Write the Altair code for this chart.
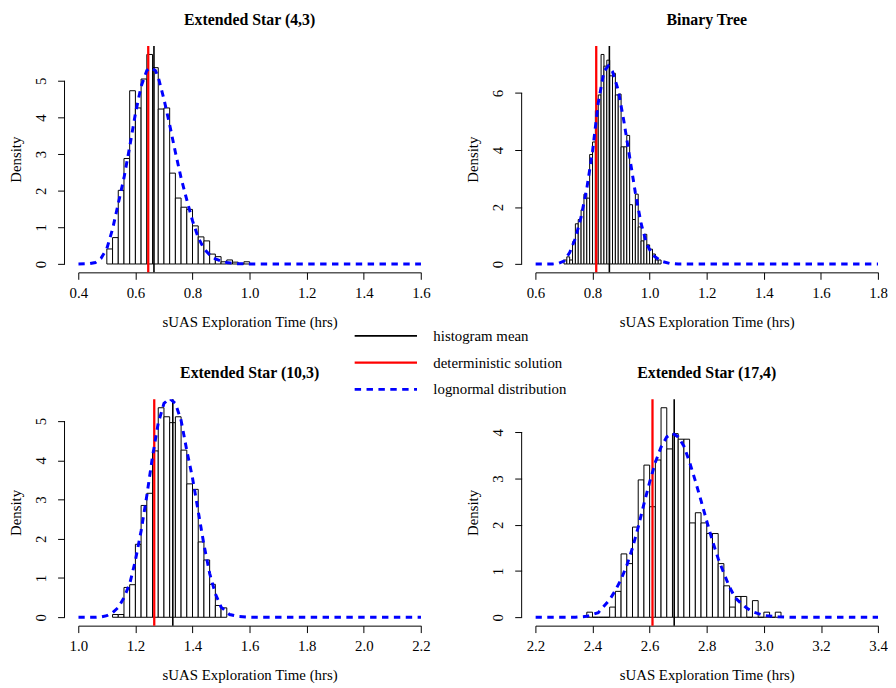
import altair as alt
import pandas as pd

FONT = "Liberation Serif"

# ---------------- data ----------------
# Extended Star (4,3)
p1_title = "Extended Star (4,3)"
p1_bin_start, p1_bin_width = 0.50, 0.02
p1_density = [0.41, 0.72, 2.01, 2.88, 4.73, 4.26, 5.05, 5.72, 5.36, 4.23, 4.26, 2.48,
              1.80, 1.55, 1.49, 1.04, 0.74, 0.63, 0.27, 0.20, 0.06, 0.11, 0.05, 0.00, 0.06]
p1_curve_x = [0.40, 0.44, 0.46, 0.48, 0.50, 0.52, 0.54, 0.56, 0.58, 0.60, 0.62, 0.64, 0.655,
              0.67, 0.68, 0.70, 0.72, 0.74, 0.76, 0.78, 0.80, 0.82, 0.84, 0.86, 0.88, 0.90,
              0.92, 0.95, 1.00, 1.60]
p1_curve_y = [0.00, 0.01, 0.04, 0.16, 0.42, 0.95, 1.65, 2.35, 3.20, 4.10, 4.85, 5.28, 5.36,
              5.28, 5.10, 4.50, 3.80, 3.05, 2.35, 1.75, 1.18, 0.72, 0.42, 0.25, 0.14, 0.08,
              0.04, 0.01, 0.00, 0.00]
p1_mean, p1_det = 0.665, 0.645
p1_xticks = [0.4, 0.6, 0.8, 1.0, 1.2, 1.4, 1.6]
p1_yticks = [0, 1, 2, 3, 4, 5]

# Binary Tree
p2_title = "Binary Tree"
p2_bin_start, p2_bin_width = 0.70, 0.01
p2_density = [0.14, 0.25, 0.14, 0.78, 1.41, 1.56, 1.90, 2.45, 2.31, 3.84, 4.28, 5.38,
              5.93, 7.35, 6.94, 7.15, 6.60, 6.69, 5.93, 5.96, 4.11, 4.11, 4.51, 2.08,
              1.56, 2.45, 1.30, 0.81, 1.04, 0.67, 0.52, 0.35, 0.14, 0.14]
p2_curve_x = [0.60, 0.66, 0.68, 0.70, 0.72, 0.74, 0.76, 0.78, 0.80, 0.82, 0.84, 0.855,
              0.87, 0.89, 0.91, 0.93, 0.95, 0.97, 0.99, 1.01, 1.04, 1.07, 1.10, 1.80]
p2_curve_y = [0.00, 0.00, 0.02, 0.10, 0.40, 0.90, 1.65, 2.65, 3.95, 5.65, 6.75, 6.95,
              6.75, 6.10, 5.00, 3.75, 2.50, 1.42, 0.69, 0.32, 0.10, 0.02, 0.00, 0.00]
p2_mean, p2_det = 0.859, 0.813
p2_xticks = [0.6, 0.8, 1.0, 1.2, 1.4, 1.6, 1.8]
p2_yticks = [0, 2, 4, 6]

# Extended Star (10,3)
p3_title = "Extended Star (10,3)"
p3_bin_start, p3_bin_width = 1.12, 0.02
p3_density = [0.07, 0.07, 0.76, 0.83, 1.86, 2.85, 3.16, 4.24, 5.34, 5.11, 4.96, 5.11,
              4.26, 3.40, 3.26, 1.92, 1.46, 0.84, 0.30, 0.24]
p3_curve_x = [1.00, 1.06, 1.08, 1.10, 1.12, 1.14, 1.16, 1.18, 1.20, 1.22, 1.24, 1.26,
              1.28, 1.30, 1.32, 1.34, 1.36, 1.38, 1.40, 1.42, 1.44, 1.46, 1.48, 1.50,
              1.53, 1.56, 1.60, 2.20]
p3_curve_y = [0.00, 0.00, 0.01, 0.04, 0.12, 0.25, 0.50, 0.85, 1.45, 2.20, 3.10, 4.10,
              4.95, 5.45, 5.58, 5.45, 5.02, 4.25, 3.55, 2.70, 1.85, 1.12, 0.60, 0.26,
              0.07, 0.02, 0.00, 0.00]
p3_mean, p3_det = 1.331, 1.266
p3_xticks = [1.0, 1.2, 1.4, 1.6, 1.8, 2.0, 2.2]
p3_yticks = [0, 1, 2, 3, 4, 5]

# Extended Star (17,4)
p4_title = "Extended Star (17,4)"
p4_bin_start, p4_bin_width = 2.38, 0.02
p4_density = [0.11, 0.00, 0.00, 0.00, 0.22, 0.56, 1.37, 1.16, 1.95, 2.97, 3.29, 2.39,
              3.40, 4.53, 3.64, 3.97, 3.85, 3.85, 2.04, 2.26, 2.04, 1.81, 1.81, 1.16,
              0.68, 0.22, 0.45, 0.45, 0.00, 0.36, 0.00, 0.11, 0.00, 0.11]
p4_curve_x = [2.20, 2.34, 2.38, 2.42, 2.46, 2.48, 2.50, 2.52, 2.54, 2.56, 2.58, 2.60,
              2.62, 2.64, 2.66, 2.68, 2.70, 2.72, 2.74, 2.76, 2.78, 2.80, 2.82, 2.84,
              2.86, 2.88, 2.90, 2.92, 2.94, 2.96, 3.00, 3.05, 3.10, 3.40]
p4_curve_y = [0.00, 0.00, 0.02, 0.10, 0.38, 0.58, 0.82, 1.12, 1.50, 1.95, 2.45, 2.92,
              3.35, 3.68, 3.90, 3.98, 3.90, 3.70, 3.35, 2.95, 2.52, 2.08, 1.65, 1.27,
              0.95, 0.65, 0.42, 0.30, 0.20, 0.12, 0.04, 0.01, 0.00, 0.00]
p4_mean, p4_det = 2.686, 2.610
p4_xticks = [2.2, 2.4, 2.6, 2.8, 3.0, 3.2, 3.4]
p4_yticks = [0, 1, 2, 3, 4]

legend_kinds = ["histogram mean", "deterministic solution", "lognormal distribution"]
x_title = "sUAS Exploration Time (hrs)"
y_title = "Density"

# ---------------- layout / style ----------------
W, H = 346.2, 228.6
YOFF = 13.9

legend = alt.Legend(title=None, orient="none", legendX=277.7, legendY=282.8,
                    symbolType="stroke", symbolSize=3969, clipHeight=20, rowPadding=7,
                    labelOffset=15, labelFont=FONT, labelFontSize=15, labelColor="black",
                    labelLimit=400, padding=0)
color_enc = alt.Color("kind:N", scale=alt.Scale(domain=legend_kinds, range=["black", "red", "blue"]),
                      legend=legend)
dash_enc = alt.StrokeDash("kind:N", scale=alt.Scale(domain=legend_kinds, range=[[1, 0], [1, 0], [6.5, 5.5]]),
                          legend=legend)
width_enc = alt.StrokeWidth("kind:N", scale=alt.Scale(domain=legend_kinds, range=[1.6, 3, 1.6]),
                            legend=legend)


def panel(title, start, bw, dens, cx, cy, mean, det, xticks, yticks):
    ymax = max(dens)
    xs = alt.Scale(domain=[xticks[0], xticks[-1]], nice=False, zero=False)
    ys = alt.Scale(domain=[-0.04 * ymax, 1.04 * ymax], nice=False, zero=False)
    xaxis = alt.Axis(values=xticks, format=".1f", labelFont=FONT, labelFontSize=15,
                     labelColor="black", labelBaseline="alphabetic", labelPadding=18.5,
                     labelFlush=False, labelOverlap=False, tickSize=7, tickColor="black",
                     tickWidth=1, domainColor="black", domainWidth=1, grid=False,
                     title=x_title, titleFont=FONT, titleFontSize=15, titleFontWeight="normal",
                     titleColor="black", titleBaseline="alphabetic", titleX=W / 2, titleY=54.2,
                     titleAlign="center")
    yaxis = alt.Axis(values=yticks, format="d", offset=YOFF, domain=False, labelFont=FONT,
                     labelFontSize=15, labelColor="black", labelAngle=270, labelAlign="center",
                     labelBaseline="alphabetic", labelPadding=12, labelFlush=False,
                     labelOverlap=False, tickSize=7, tickColor="black", tickWidth=1, grid=False,
                     title=y_title, titleFont=FONT, titleFontSize=15, titleFontWeight="normal",
                     titleColor="black", titleAngle=270, titleBaseline="alphabetic",
                     titleAlign="center", titleX=-44.4, titleY=H / 2)

    bars_df = pd.DataFrame({
        "x0": [round(start + i * bw, 4) for i in range(len(dens))],
        "x1": [round(start + (i + 1) * bw, 4) for i in range(len(dens))],
        "d": dens,
    })
    bars = alt.Chart(bars_df).mark_bar(fill="white", stroke="black", strokeWidth=1).encode(
        x=alt.X("x0:Q", scale=xs, axis=xaxis), x2="x1:Q",
        y=alt.Y("d:Q", scale=ys, axis=yaxis), y2=alt.datum(0))

    vl_df = pd.DataFrame({"x": [mean, det], "kind": ["histogram mean", "deterministic solution"]})
    vlines = alt.Chart(vl_df).mark_rule().encode(
        x=alt.X("x:Q", scale=xs, axis=xaxis), y=alt.value(0), y2=alt.value(H),
        color=color_enc, strokeDash=dash_enc, strokeWidth=width_enc)

    c_df = pd.DataFrame({"x": cx, "d": cy, "kind": "lognormal distribution"})
    curve = alt.Chart(c_df).mark_line(clip=True).encode(
        x=alt.X("x:Q", scale=xs, axis=xaxis), y=alt.Y("d:Q", scale=ys, axis=yaxis),
        color=color_enc, strokeDash=dash_enc, strokeWidth=width_enc)

    ax_df = pd.DataFrame({"lo": [yticks[0]], "hi": [yticks[-1]]})
    yline = alt.Chart(ax_df).mark_rule(color="black", strokeWidth=1).encode(
        x=alt.value(-YOFF), y=alt.Y("lo:Q", scale=ys, axis=yaxis), y2="hi:Q")

    return alt.layer(bars, vlines, curve, yline).properties(
        width=W, height=H,
        title=alt.TitleParams(text=title, font=FONT, fontSize=16, fontWeight="bold",
                              color="black", anchor="middle", frame="group",
                              baseline="alphabetic", offset=4.55))


p1 = panel(p1_title, p1_bin_start, p1_bin_width, p1_density, p1_curve_x, p1_curve_y,
           p1_mean, p1_det, p1_xticks, p1_yticks)
p2 = panel(p2_title, p2_bin_start, p2_bin_width, p2_density, p2_curve_x, p2_curve_y,
           p2_mean, p2_det, p2_xticks, p2_yticks)
p3 = panel(p3_title, p3_bin_start, p3_bin_width, p3_density, p3_curve_x, p3_curve_y,
           p3_mean, p3_det, p3_xticks, p3_yticks)
p4 = panel(p4_title, p4_bin_start, p4_bin_width, p4_density, p4_curve_x, p4_curve_y,
           p4_mean, p4_det, p4_xticks, p4_yticks)

chart = alt.concat(p1, p2, p3, p4, columns=2,
                   spacing={"row": 127.9, "column": 114.8}, bounds="flush").resolve_scale(
    x="independent", y="independent", color="shared", strokeDash="shared", strokeWidth="shared"
).resolve_legend(color="shared", strokeDash="shared", strokeWidth="shared").properties(
    padding={"left": 0, "top": 0, "right": 0, "bottom": 0}, background="white"
).configure_view(stroke=None)

chart.save("out.html", embed_options={"renderer": "svg", "actions": False})
